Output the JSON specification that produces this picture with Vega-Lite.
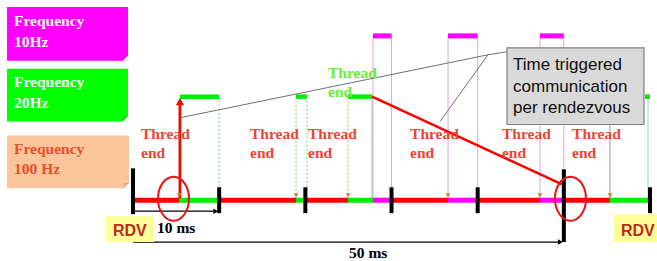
{
  "$schema": "https://vega.github.io/schema/vega-lite/v6.json",
  "width": 657,
  "height": 261,
  "autosize": {"type": "fit", "contains": "padding"},
  "padding": 0,
  "background": "white",
  "config": {"view": {"stroke": null}},
  "datasets": {
    "dotted": [
      {"t": 10, "t2": 10, "y": 97, "y2": 199, "c": "#66dd66", "w": 1},
      {"t": 18.92, "t2": 18.92, "y": 97, "y2": 199, "c": "#88cc66", "w": 1},
      {"t": 20.19, "t2": 20.19, "y": 97, "y2": 199, "c": "#66dd66", "w": 1},
      {"t": 24.95, "t2": 24.95, "y": 97, "y2": 199, "c": "#88cc66", "w": 1}
    ],
    "solid": [
      {"t": 27.74, "t2": 27.74, "y": 97, "y2": 199, "c": "#88e888", "w": 1.2},
      {"t": 59.77, "t2": 59.77, "y": 97, "y2": 199, "c": "#88e888", "w": 1},
      {"t": 5.34, "t2": 5.34, "y": 104, "y2": 199, "c": "#c89060", "w": 1},
      {"t": 55.35, "t2": 55.35, "y": 97, "y2": 199, "c": "#c89060", "w": 1},
      {"t": 27.85, "t2": 27.85, "y": 36, "y2": 199, "c": "#e8a0e8", "w": 1},
      {"t": 30, "t2": 30, "y": 36, "y2": 199, "c": "#e8a0e8", "w": 1},
      {"t": 36.56, "t2": 36.56, "y": 36, "y2": 199, "c": "#e8a0e8", "w": 1},
      {"t": 40, "t2": 40, "y": 36, "y2": 199, "c": "#e8a0e8", "w": 1},
      {"t": 47.23, "t2": 47.23, "y": 36, "y2": 199, "c": "#e8a0e8", "w": 1},
      {"t": 50, "t2": 50, "y": 36, "y2": 170, "c": "#e8a0e8", "w": 1},
      {"t": 0, "t2": 5.34, "y": 201, "y2": 201, "c": "#ff0000", "w": 5},
      {"t": 5.34, "t2": 10, "y": 201, "y2": 201, "c": "#00ee00", "w": 5},
      {"t": 10, "t2": 18.92, "y": 201, "y2": 201, "c": "#ff0000", "w": 5},
      {"t": 18.92, "t2": 20, "y": 201, "y2": 201, "c": "#00ee00", "w": 5},
      {"t": 20, "t2": 24.95, "y": 201, "y2": 201, "c": "#ff0000", "w": 5},
      {"t": 24.95, "t2": 27.85, "y": 201, "y2": 201, "c": "#00ee00", "w": 5},
      {"t": 27.85, "t2": 30, "y": 201, "y2": 201, "c": "#ff00ff", "w": 5},
      {"t": 30, "t2": 36.56, "y": 201, "y2": 201, "c": "#ff0000", "w": 5},
      {"t": 36.56, "t2": 40, "y": 201, "y2": 201, "c": "#ff00ff", "w": 5},
      {"t": 40, "t2": 47.23, "y": 201, "y2": 201, "c": "#ff0000", "w": 5},
      {"t": 47.23, "t2": 50, "y": 201, "y2": 201, "c": "#ff00ff", "w": 5},
      {"t": 50, "t2": 55.35, "y": 201, "y2": 201, "c": "#ff0000", "w": 5},
      {"t": 55.35, "t2": 60, "y": 201, "y2": 201, "c": "#00ee00", "w": 5},
      {"t": 5.45, "t2": 10, "y": 97, "y2": 97, "c": "#00ee00", "w": 4.5},
      {"t": 18.92, "t2": 20.19, "y": 97, "y2": 97, "c": "#00ee00", "w": 4.5},
      {"t": 24.95, "t2": 27.74, "y": 97, "y2": 97, "c": "#00ee00", "w": 4.5},
      {"t": 59.42, "t2": 60, "y": 97, "y2": 97, "c": "#00ee00", "w": 4.5},
      {"t": 27.85, "t2": 30, "y": 36, "y2": 36, "c": "#ff00ff", "w": 5},
      {"t": 36.56, "t2": 40, "y": 36, "y2": 36, "c": "#ff00ff", "w": 5},
      {"t": 47.23, "t2": 50, "y": 36, "y2": 36, "c": "#ff00ff", "w": 5},
      {"t": 0, "t2": 0, "y": 169, "y2": 215, "c": "#000000", "w": 4},
      {"t": 10, "t2": 10, "y": 188, "y2": 214, "c": "#000000", "w": 4},
      {"t": 20, "t2": 20, "y": 188, "y2": 214, "c": "#000000", "w": 4},
      {"t": 30, "t2": 30, "y": 188, "y2": 214, "c": "#000000", "w": 4},
      {"t": 40, "t2": 40, "y": 188, "y2": 214, "c": "#000000", "w": 4},
      {"t": 60, "t2": 60, "y": 188, "y2": 214, "c": "#000000", "w": 4},
      {"t": 50, "t2": 50, "y": 170, "y2": 243, "c": "#000000", "w": 4},
      {"t": 5.45, "t2": 5.45, "y": 199, "y2": 104, "c": "#ff0000", "w": 2.5},
      {"t": 27.74, "t2": 49.79, "y": 97, "y2": 185, "c": "#ff0000", "w": 2.5},
      {"t": 5.57, "t2": 41.2, "y": 118, "y2": 55, "c": "#707070", "w": 1},
      {"t": 35.63, "t2": 41.2, "y": 122, "y2": 55, "c": "#707070", "w": 1},
      {"t": 41.2, "t2": 43.4, "y": 55, "y2": 52, "c": "#707070", "w": 1},
      {"t": 0, "t2": 9.6, "y": 212, "y2": 212, "c": "#000000", "w": 1.2},
      {"t": 0, "t2": 49.6, "y": 243, "y2": 243, "c": "#000000", "w": 1.2}
    ],
    "rects": [
      {"t": -14.62, "t2": -0.58, "y": 7, "y2": 61, "c": "#ff00ff"},
      {"t": -14.62, "t2": -0.58, "y": 69, "y2": 122, "c": "#00ff00"},
      {"t": -14.62, "t2": -0.46, "y": 136, "y2": 189, "c": "#fbc59c"},
      {"t": -3.13, "t2": 2.44, "y": 217, "y2": 243, "c": "#ffff99"},
      {"t": 55.82, "t2": 60.81, "y": 215, "y2": 243, "c": "#ffff99"}
    ],
    "callout": [
      {"t": 43.4, "t2": 59.3, "y": 48, "y2": 125}
    ],
    "marks": [
      {"t": 5.34, "y": 196, "s": "triangle-down", "sz": 22, "c": "#e07030"},
      {"t": 18.92, "y": 196, "s": "triangle-down", "sz": 22, "c": "#e07030"},
      {"t": 24.95, "y": 196, "s": "triangle-down", "sz": 22, "c": "#e07030"},
      {"t": 36.56, "y": 196, "s": "triangle-down", "sz": 22, "c": "#e07030"},
      {"t": 47.23, "y": 196, "s": "triangle-down", "sz": 22, "c": "#e07030"},
      {"t": 55.35, "y": 196, "s": "triangle-down", "sz": 22, "c": "#e07030"},
      {"t": 5.45, "y": 102, "s": "triangle-up", "sz": 70, "c": "#ff0000"},
      {"t": 9.6, "y": 212, "s": "triangle-right", "sz": 30, "c": "#000000"},
      {"t": 49.6, "y": 243, "s": "triangle-right", "sz": 30, "c": "#000000"},
      {"t": -0.9, "y": 58.25, "s": "M1,-1L1,1L-1,1Z", "sz": 30, "c": "#ffffff"},
      {"t": -0.9, "y": 58.25, "s": "M-1,-1L1,-1L-1,1Z", "sz": 30, "c": "#d818d8"},
      {"t": -0.9, "y": 119.25, "s": "M1,-1L1,1L-1,1Z", "sz": 30, "c": "#ffffff"},
      {"t": -0.9, "y": 119.25, "s": "M-1,-1L1,-1L-1,1Z", "sz": 30, "c": "#22d822"},
      {"t": -0.78, "y": 186.25, "s": "M1,-1L1,1L-1,1Z", "sz": 30, "c": "#ffffff"},
      {"t": -0.78, "y": 186.25, "s": "M-1,-1L1,-1L-1,1Z", "sz": 30, "c": "#deaa84"}
    ],
    "ellipses": [
      {"t": 4.7, "y": 199.5},
      {"t": 50.77, "y": 199.5}
    ],
    "serif": [
      {"text": "Frequency", "t": -13.81, "y": 26.5, "c": "#ffffff"},
      {"text": "10Hz", "t": -13.81, "y": 47, "c": "#ffffff"},
      {"text": "Frequency", "t": -13.81, "y": 87.5, "c": "#ffffff"},
      {"text": "20Hz", "t": -13.81, "y": 108, "c": "#ffffff"},
      {"text": "Frequency", "t": -13.81, "y": 155, "c": "#e8502a"},
      {"text": "100 Hz", "t": -13.81, "y": 174.5, "c": "#e8502a"},
      {"text": "Thread", "t": 0.93, "y": 140, "c": "#ee4433"},
      {"text": "end", "t": 0.93, "y": 159, "c": "#ee4433"},
      {"text": "Thread", "t": 13.58, "y": 140, "c": "#ee4433"},
      {"text": "end", "t": 13.58, "y": 159, "c": "#ee4433"},
      {"text": "Thread", "t": 20.31, "y": 140, "c": "#ee4433"},
      {"text": "end", "t": 20.31, "y": 159, "c": "#ee4433"},
      {"text": "Thread", "t": 32.15, "y": 140, "c": "#ee4433"},
      {"text": "end", "t": 32.15, "y": 159, "c": "#ee4433"},
      {"text": "Thread", "t": 42.82, "y": 140, "c": "#ee4433"},
      {"text": "end", "t": 42.82, "y": 159, "c": "#ee4433"},
      {"text": "Thread", "t": 50.95, "y": 140, "c": "#ee4433"},
      {"text": "end", "t": 50.95, "y": 159, "c": "#ee4433"},
      {"text": "Thread", "t": 22.63, "y": 78, "c": "#66ee33"},
      {"text": "end", "t": 22.63, "y": 97.5, "c": "#66ee33"},
      {"text": "10 ms", "t": 2.79, "y": 234, "c": "#000000"},
      {"text": "50 ms", "t": 25.07, "y": 258.5, "c": "#000000"}
    ],
    "rdv": [
      {"text": "RDV", "t": -2.32, "y": 237},
      {"text": "RDV", "t": 56.63, "y": 237}
    ],
    "boxtext": [
      {"text": "Time triggered", "t": 44.1, "y": 70},
      {"text": "communication", "t": 44.1, "y": 92},
      {"text": "per rendezvous", "t": 44.1, "y": 113}
    ]
  },
  "layer": [
    {
      "data": {"name": "dotted"},
      "mark": {"type": "rule", "strokeDash": [2, 2]},
      "encoding": {
        "x": {"field": "t", "type": "quantitative", "scale": {"domain": [-15.435, 60.81], "nice": false, "zero": false}, "axis": null},
        "x2": {"field": "t2"},
        "y": {"field": "y", "type": "quantitative", "scale": {"domain": [0, 261], "nice": false, "zero": false, "reverse": true}, "axis": null},
        "y2": {"field": "y2"},
        "color": {"field": "c", "type": "nominal", "scale": null},
        "strokeWidth": {"field": "w", "type": "quantitative", "scale": null}
      }
    },
    {
      "data": {"name": "solid"},
      "mark": {"type": "rule"},
      "encoding": {
        "x": {"field": "t", "type": "quantitative", "scale": {"domain": [-15.435, 60.81], "nice": false, "zero": false}, "axis": null},
        "x2": {"field": "t2"},
        "y": {"field": "y", "type": "quantitative", "scale": {"domain": [0, 261], "nice": false, "zero": false, "reverse": true}, "axis": null},
        "y2": {"field": "y2"},
        "color": {"field": "c", "type": "nominal", "scale": null},
        "strokeWidth": {"field": "w", "type": "quantitative", "scale": null}
      }
    },
    {
      "data": {"name": "rects"},
      "mark": {"type": "rect"},
      "encoding": {
        "x": {"field": "t", "type": "quantitative", "scale": {"domain": [-15.435, 60.81], "nice": false, "zero": false}, "axis": null},
        "x2": {"field": "t2"},
        "y": {"field": "y", "type": "quantitative", "scale": {"domain": [0, 261], "nice": false, "zero": false, "reverse": true}, "axis": null},
        "y2": {"field": "y2"},
        "color": {"field": "c", "type": "nominal", "scale": null}
      }
    },
    {
      "data": {"name": "callout"},
      "mark": {"type": "rect", "fill": "#d9d9d9", "stroke": "#808080", "strokeWidth": 1.2},
      "encoding": {
        "x": {"field": "t", "type": "quantitative", "scale": {"domain": [-15.435, 60.81], "nice": false, "zero": false}, "axis": null},
        "x2": {"field": "t2"},
        "y": {"field": "y", "type": "quantitative", "scale": {"domain": [0, 261], "nice": false, "zero": false, "reverse": true}, "axis": null},
        "y2": {"field": "y2"}
      }
    },
    {
      "data": {"name": "marks"},
      "mark": {"type": "point", "filled": true, "opacity": 1, "strokeWidth": 0},
      "encoding": {
        "x": {"field": "t", "type": "quantitative", "scale": {"domain": [-15.435, 60.81], "nice": false, "zero": false}, "axis": null},
        "y": {"field": "y", "type": "quantitative", "scale": {"domain": [0, 261], "nice": false, "zero": false, "reverse": true}, "axis": null},
        "shape": {"field": "s", "type": "nominal", "scale": null},
        "size": {"field": "sz", "type": "quantitative", "scale": null},
        "color": {"field": "c", "type": "nominal", "scale": null}
      }
    },
    {
      "data": {"name": "ellipses"},
      "mark": {"type": "point", "filled": false, "stroke": "#ee1111", "strokeWidth": 2, "opacity": 1, "size": 1936, "shape": "M-0.705,0C-0.705,-0.552,-0.389,-1,0,-1C0.389,-1,0.705,-0.552,0.705,0C0.705,0.552,0.389,1,0,1C-0.389,1,-0.705,0.552,-0.705,0Z"},
      "encoding": {
        "x": {"field": "t", "type": "quantitative", "scale": {"domain": [-15.435, 60.81], "nice": false, "zero": false}, "axis": null},
        "y": {"field": "y", "type": "quantitative", "scale": {"domain": [0, 261], "nice": false, "zero": false, "reverse": true}, "axis": null}
      }
    },
    {
      "data": {"name": "serif"},
      "mark": {"type": "text", "align": "left", "baseline": "alphabetic", "font": "Liberation Serif", "fontWeight": "bold", "fontSize": 15.5},
      "encoding": {
        "x": {"field": "t", "type": "quantitative", "scale": {"domain": [-15.435, 60.81], "nice": false, "zero": false}, "axis": null},
        "y": {"field": "y", "type": "quantitative", "scale": {"domain": [0, 261], "nice": false, "zero": false, "reverse": true}, "axis": null},
        "text": {"field": "text"},
        "color": {"field": "c", "type": "nominal", "scale": null}
      }
    },
    {
      "data": {"name": "rdv"},
      "mark": {"type": "text", "align": "left", "baseline": "alphabetic", "font": "Liberation Sans", "fontWeight": "bold", "fontSize": 16, "color": "#c0281c"},
      "encoding": {
        "x": {"field": "t", "type": "quantitative", "scale": {"domain": [-15.435, 60.81], "nice": false, "zero": false}, "axis": null},
        "y": {"field": "y", "type": "quantitative", "scale": {"domain": [0, 261], "nice": false, "zero": false, "reverse": true}, "axis": null},
        "text": {"field": "text"}
      }
    },
    {
      "data": {"name": "boxtext"},
      "mark": {"type": "text", "align": "left", "baseline": "alphabetic", "font": "Liberation Sans", "fontSize": 17, "color": "#111111"},
      "encoding": {
        "x": {"field": "t", "type": "quantitative", "scale": {"domain": [-15.435, 60.81], "nice": false, "zero": false}, "axis": null},
        "y": {"field": "y", "type": "quantitative", "scale": {"domain": [0, 261], "nice": false, "zero": false, "reverse": true}, "axis": null},
        "text": {"field": "text"}
      }
    }
  ]
}
